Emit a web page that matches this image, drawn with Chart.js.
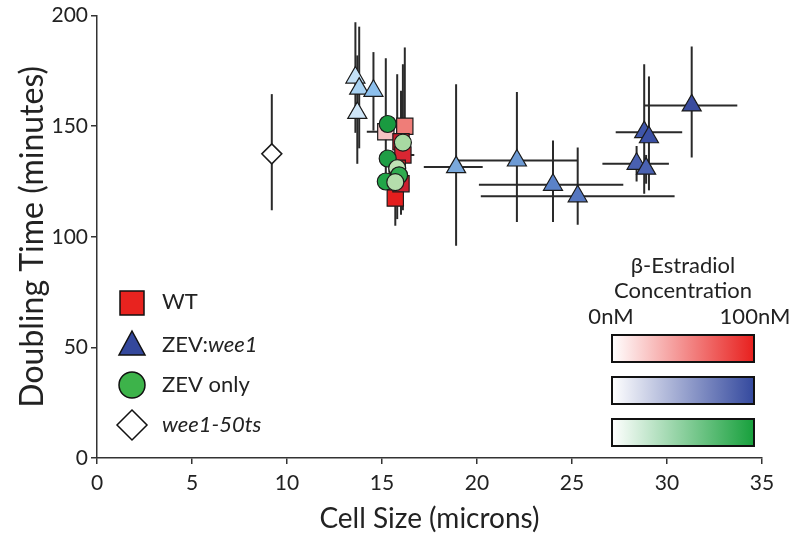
<!DOCTYPE html>
<html>
<head>
<meta charset="utf-8">
<script src="https://cdn.jsdelivr.net/npm/chart.js@4.4.1/dist/chart.umd.min.js"></script>
<style>
  html, body { margin: 0; padding: 0; background: #fff; }
  #wrap { width: 800px; height: 537px; position: relative; }
</style>
</head>
<body>
<div id="wrap"><canvas id="chart"></canvas></div>
<script>
// Axis ticks
const xTicks = [0, 5, 10, 15, 20, 25, 30, 35];
const yTicks = [0, 50, 100, 150, 200];

// WT (red squares)
const wtX     = [15.2, 16.2, 16.0, 16.1, 15.8, 15.7, 16.0];
const wtY     = [147.5, 150, 143, 137, 131, 117.5, 124];
const wtYLo   = [128, 133, 122, 112, 108, 105, 110];
const wtYHi   = [180.7, 185.6, 166, 178, 173.5, 130, 137];
const wtXLo   = [14.2, null, null, null, null, null, null];
const wtXHi   = [null, null, null, 16.7, null, null, null];
const wtColors = ['#f5c3c3', '#ef7d78', '#c81c2a', '#d92632', '#e0302e', '#e41e1e', '#cc2030'];

// ZEV:wee1 (blue triangles)
const zwX     = [13.6, 13.8, 14.55, 13.7, 18.9, 22.1, 24.0, 25.3, 28.4, 28.8, 29.05, 28.9, 31.3];
const zwY     = [172, 167, 166, 156, 131.5, 134.5, 123.5, 118.3, 133, 147.3, 145, 130.8, 159.4];
const zwYLo   = [147, 140, 148, 133, 96, 106.7, 106.7, 105.4, 125, 119.5, 121, 124, 135.8];
const zwYHi   = [197, 195, 183.5, 182, 169, 165.5, 143.5, 140.4, 141, 178, 172.5, 137, 186];
const zwXLo   = [null, null, null, null, 17.2, 18.9, 20.1, 20.2, 26.6, 27.3, null, null, 28.8];
const zwXHi   = [null, null, null, null, 20.3, 25.3, 27.7, 30.4, 30.1, 30.8, null, null, 33.7];
const zwColors = ['#c4e0f6', '#a9d2f2', '#8cbfec', '#cfe6f8', '#7aa9dc', '#6d9ad4', '#5a82c8',
                  '#5677c0', '#4960b0', '#3f56aa', '#3a4fa4', '#4a62b2', '#3a4c9e'];

// ZEV only (green circles)
const zoX     = [15.3, 16.1, 15.3, 15.8, 15.9, 15.2, 15.7];
const zoY     = [151, 142.6, 135.4, 131, 127.8, 125, 124.7];
const zoColors = ['#1a9a40', '#a8daa2', '#1f9d45', '#bfe2b6', '#2fab50', '#22a548', '#b4ddac'];

// wee1-50ts (white diamond)
const wtsX   = [9.2];
const wtsY   = [137.5];
const wtsYLo = [112];
const wtsYHi = [164.5];

const FONT = 'Lato, "Open Sans", sans-serif';
const INK = '#222';

const toPts = (xs, ys) => xs.map((x, i) => ({ x, y: ys[i] }));

const errorSets = [
  { x: wtX, y: wtY, yLo: wtYLo, yHi: wtYHi, xLo: wtXLo, xHi: wtXHi },
  { x: zwX, y: zwY, yLo: zwYLo, yHi: zwYHi, xLo: zwXLo, xHi: zwXHi },
  { x: wtsX, y: wtsY, yLo: wtsYLo, yHi: wtsYHi, xLo: [null], xHi: [null] },
];

/**
 * Error bars, drawn under the markers
 */
const errorBars = {
  id: 'errorBars',
  beforeDatasetsDraw(chart) {
    const { ctx, scales: { x, y } } = chart;
    ctx.save();
    ctx.strokeStyle = '#2a2a2a';
    ctx.lineWidth = 2;
    errorSets.forEach((s) => {
      s.x.forEach((xv, i) => {
        const px = x.getPixelForValue(xv);
        const py = y.getPixelForValue(s.y[i]);
        ctx.beginPath();
        ctx.moveTo(px, y.getPixelForValue(s.yLo[i]));
        ctx.lineTo(px, y.getPixelForValue(s.yHi[i]));
        const lo = s.xLo[i] != null ? x.getPixelForValue(s.xLo[i]) : px;
        const hi = s.xHi[i] != null ? x.getPixelForValue(s.xHi[i]) : px;
        if (lo !== hi) {
          ctx.moveTo(lo, py);
          ctx.lineTo(hi, py);
        }
        ctx.stroke();
      });
    });
    ctx.restore();
  },
};

/**
 * Legend and concentration colour bars
 */
const overlay = {
  id: 'overlay',
  afterDraw(chart) {
    const { ctx } = chart;
    ctx.save();
    ctx.lineWidth = 1.5;
    ctx.strokeStyle = '#111';

    // legend markers
    const mx = 132;
    ctx.beginPath();
    ctx.rect(mx - 12, 291, 24, 24);
    ctx.fillStyle = '#e8231f';
    ctx.fill(); ctx.stroke();
    ctx.beginPath();
    ctx.moveTo(mx, 331); ctx.lineTo(mx + 13, 355); ctx.lineTo(mx - 13, 355); ctx.closePath();
    ctx.fillStyle = '#34489c';
    ctx.fill(); ctx.stroke();
    ctx.beginPath();
    ctx.arc(mx, 385, 13, 0, Math.PI * 2);
    ctx.fillStyle = '#3db34a';
    ctx.fill(); ctx.stroke();
    ctx.beginPath();
    ctx.moveTo(mx, 410); ctx.lineTo(mx + 15, 425); ctx.lineTo(mx, 440); ctx.lineTo(mx - 15, 425); ctx.closePath();
    ctx.fillStyle = '#fff';
    ctx.fill(); ctx.stroke();

    // legend labels
    ctx.fillStyle = INK;
    ctx.textBaseline = 'middle';
    ctx.textAlign = 'left';
    const lx = 162;
    ctx.font = `22px ${FONT}`;
    ctx.fillText('WT', lx, 302);
    ctx.fillText('ZEV:', lx, 345);
    const w = ctx.measureText('ZEV:').width;
    ctx.fillText('ZEV only', lx, 385);
    ctx.font = `italic 22px ${FONT}`;
    ctx.fillText('wee1', lx + w, 345);
    ctx.fillText('wee1-50ts', lx, 425);

    // concentration bars
    ctx.font = `22px ${FONT}`;
    ctx.textAlign = 'center';
    ctx.fillText('\u03b2-Estradiol', 683, 266);
    ctx.fillText('Concentration', 683, 291);
    ctx.fillText('0nM', 611, 317);
    ctx.fillText('100nM', 755, 317);

    const bars = [['#e8201e', 335], ['#34499e', 377], ['#17a03c', 419]];
    bars.forEach(([col, top]) => {
      const g = ctx.createLinearGradient(612, 0, 754, 0);
      g.addColorStop(0, '#ffffff');
      g.addColorStop(1, col);
      ctx.fillStyle = g;
      ctx.fillRect(612, top, 142, 27);
      ctx.lineWidth = 2;
      ctx.strokeRect(612, top, 142, 27);
    });
    ctx.restore();
  },
};

new Chart(document.getElementById('chart'), {
  type: 'scatter',
  data: {
    datasets: [
      {
        label: 'ZEV only',
        data: toPts(zoX, zoY),
        pointStyle: 'circle',
        pointRadius: 8.5,
        pointBackgroundColor: zoColors,
        pointBorderColor: '#1b1b1b',
        pointBorderWidth: 1.2,
        order: 0,
      },
      {
        label: 'WT',
        data: toPts(wtX, wtY),
        pointStyle: 'rect',
        pointRadius: 11.5,
        pointBackgroundColor: wtColors,
        pointBorderColor: '#1b1b1b',
        pointBorderWidth: 1.2,
        order: 1,
      },
      {
        label: 'ZEV:wee1',
        data: toPts(zwX, zwY),
        pointStyle: 'triangle',
        pointRadius: 11,
        pointBackgroundColor: zwColors,
        pointBorderColor: '#1b1b1b',
        pointBorderWidth: 1.2,
        order: 2,
      },
      {
        label: 'wee1-50ts',
        data: toPts(wtsX, wtsY),
        pointStyle: 'rectRot',
        pointRadius: 10,
        pointBackgroundColor: '#ffffff',
        pointBorderColor: '#1b1b1b',
        pointBorderWidth: 1.5,
        order: 3,
      },
    ],
  },
  options: {
    responsive: true,
    maintainAspectRatio: false,
    animation: false,
    layout: { padding: { top: 12, right: 38, bottom: 0, left: 0 } },
    plugins: {
      legend: { display: false },
      tooltip: { enabled: false },
    },
    scales: {
      x: {
        type: 'linear',
        min: 0,
        max: 35,
        afterBuildTicks: (s) => { s.ticks = xTicks.map((v) => ({ value: v })); },
        afterFit: (s) => { s.height = 79; },
        grid: { drawOnChartArea: false, drawTicks: true, tickLength: 6, color: '#333', lineWidth: 1.5 },
        border: { color: '#333', width: 1.5 },
        ticks: { color: INK, font: { family: FONT, size: 21 }, padding: 7, maxRotation: 0 },
        title: {
          display: true,
          text: 'Cell Size (microns)',
          color: INK,
          font: { family: FONT, size: 28 },
          padding: { top: 0, bottom: 1 },
        },
      },
      y: {
        type: 'linear',
        min: 0,
        max: 200,
        afterBuildTicks: (s) => { s.ticks = yTicks.map((v) => ({ value: v })); },
        afterFit: (s) => { s.width = 97; },
        grid: { drawOnChartArea: false, drawTicks: true, tickLength: 6, color: '#333', lineWidth: 1.5 },
        border: { color: '#333', width: 1.5 },
        ticks: { color: INK, font: { family: FONT, size: 21 }, padding: 3 },
        title: {
          display: true,
          text: 'Doubling Time (minutes)',
          color: INK,
          font: { family: FONT, size: 32 },
          padding: { top: 13, bottom: 0 },
        },
      },
    },
  },
  plugins: [errorBars, overlay],
});
</script>
</body>
</html>
